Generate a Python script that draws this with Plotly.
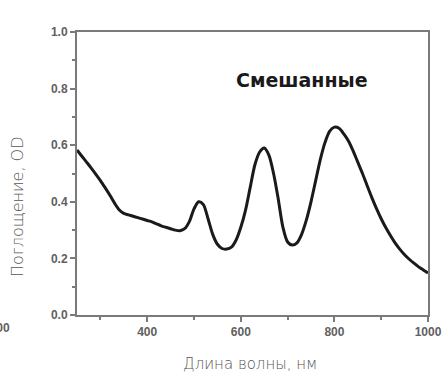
import plotly.graph_objects as go

wavelength = list(range(250, 1001, 10))
absorbance = [
    0.583, 0.562, 0.541, 0.52, 0.498, 0.475, 0.45, 0.424, 0.396, 0.372,
    0.359, 0.354, 0.349, 0.344, 0.339, 0.334, 0.329, 0.322, 0.315, 0.31,
    0.305, 0.30, 0.298, 0.305, 0.33, 0.375, 0.40, 0.39, 0.34, 0.285,
    0.25, 0.235, 0.233, 0.24, 0.265, 0.31, 0.37, 0.45, 0.53, 0.575,
    0.59, 0.565, 0.50, 0.41, 0.31, 0.258, 0.247, 0.255, 0.285, 0.335,
    0.40, 0.475, 0.55, 0.61, 0.65, 0.664, 0.66, 0.64, 0.615, 0.58,
    0.54, 0.50, 0.457, 0.415, 0.376, 0.34, 0.308, 0.28, 0.254, 0.232,
    0.213, 0.197, 0.183, 0.17, 0.159, 0.148,
]
x_ticks = [400, 600, 800, 1000]
y_ticks = [0.0, 0.2, 0.4, 0.6, 0.8, 1.0]

label_text = "Смешанные"
x_title = "Длина волны, нм"
y_title = "Поглощение, OD"

fig = go.Figure()
fig.add_trace(go.Scatter(
    x=wavelength, y=absorbance, mode="lines",
    line=dict(color="#1a1a1a", width=3, shape="spline", smoothing=0.8),
    showlegend=False, hoverinfo="skip",
))

axis_color = "#7a7a7a"
tick_font = dict(family="Liberation Sans, Arial", size=12, color="#606060", weight="bold")
title_font = dict(family="DejaVu Sans", size=15, color="#555555", weight=200)

fig.update_xaxes(
    range=[250, 1000], tickvals=x_ticks, ticks="outside", ticklen=5, tickwidth=2,
    tickcolor=axis_color, showline=True, linecolor=axis_color, linewidth=2, mirror=True,
    showgrid=False, zeroline=False, tickfont=tick_font,
    minor=dict(tickvals=[300, 500, 700, 900], ticks="outside", ticklen=3,
               tickcolor=axis_color, tickwidth=2),
)
fig.update_yaxes(
    range=[0, 1], tickvals=y_ticks, tickformat=".1f", ticks="outside", ticklen=5, tickwidth=2,
    tickcolor=axis_color, showline=True, linecolor=axis_color, linewidth=2, mirror=True,
    showgrid=False, zeroline=False, tickfont=tick_font,
    minor=dict(tickvals=[0.1, 0.3, 0.5, 0.7, 0.9], ticks="outside", ticklen=3,
               tickcolor=axis_color, tickwidth=2),
)

fig.update_layout(
    width=445, height=372,
    margin=dict(l=77, r=17, t=32, b=57, autoexpand=False),
    paper_bgcolor="white", plot_bgcolor="white",
    annotations=[
        dict(text=label_text, xref="x", yref="y", x=731, y=0.83, showarrow=False,
             font=dict(family="DejaVu Sans", size=19, color="#1a1a1a", weight="bold")),
        dict(text=x_title, xref="paper", yref="paper", x=(250 - 77) / 351, y=-(364 - 315) / 283,
             xanchor="center", yanchor="middle", showarrow=False, font=title_font),
        dict(text=y_title, xref="paper", yref="paper", x=(17 - 77) / 351, y=(315 - 207) / 283,
             xanchor="center", yanchor="middle", textangle=-90, showarrow=False,
             font=dict(family="DejaVu Sans", size=16, color="#555555", weight=200)),
        dict(text="1000", xref="paper", yref="paper", x=(12 - 77) / 351, y=-(328 - 315) / 283,
             xanchor="right", yanchor="middle", showarrow=False, font=tick_font),
    ],
)

fig.write_html("out.html")
